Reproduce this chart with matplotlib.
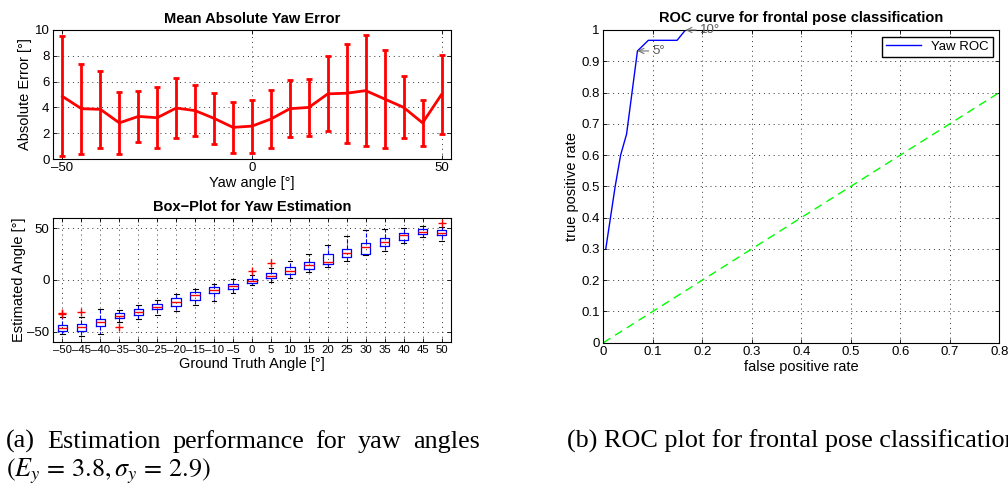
import matplotlib.pyplot as plt

plt.rcParams['font.family'] = ['Liberation Sans', 'DejaVu Sans']
plt.rcParams['mathtext.fontset'] = 'stix'

W, H = 1008, 488

# mean absolute yaw error (deg) with standard deviation per yaw angle
yaw_angles = [-50, -45, -40, -35, -30, -25, -20, -15, -10, -5, 0,
              5, 10, 15, 20, 25, 30, 35, 40, 45, 50]
mean_abs_err = [4.85, 3.9, 3.85, 2.8, 3.3, 3.2, 3.95, 3.75, 3.15, 2.45, 2.55,
                3.1, 3.9, 4.0, 5.05, 5.1, 5.3, 4.65, 4.0, 2.8, 5.0]
std_abs_err = [4.65, 3.5, 3.0, 2.4, 1.95, 2.35, 2.3, 2.0, 2.0, 1.95, 2.05,
               2.25, 2.2, 2.2, 2.9, 3.85, 4.33, 3.8, 2.4, 1.78, 3.05]

# box-plot statistics of the estimated angle per ground truth angle
box_q1 = [-49.5, -49.5, -44.4, -37, -33.9, -28.4, -25.2, -19.2, -12.8, -8.9, -2.9,
          1.6, 5.4, 10.9, 15.4, 22, 25.5, 32.9, 39, 44.1, 43.8]
box_med = [-46, -45, -40.9, -34.5, -31, -25.9, -21.7, -14.7, -9.9, -6.1, -1,
           3.5, 8.3, 15, 17, 26.5, 31.6, 36.7, 43.1, 46.6, 45.4]
box_q3 = [-43.5, -42.5, -37.4, -32, -27.8, -23.3, -17.9, -11.8, -7, -3.8, 1.3,
          6.4, 12.1, 17.6, 24.7, 30.4, 35.5, 40.6, 45.7, 48.9, 48.2]
box_lo = [-52.5, -54.5, -52, -41, -37.4, -34.2, -30.4, -24, -20.1, -12.1, -5.1,
          -1.6, 2.2, 8, 12.9, 18.5, 24, 28.1, 36.1, 41.2, 38]
box_hi = [-36, -36, -28.5, -29, -24.3, -19.2, -13.4, -8.9, -3.8, 1.3, 4.5,
          11.8, 18.2, 25.2, 34.2, 42.5, 48, 48.9, 50.5, 52.4, 51]
box_fliers = [[-32.5, -31.5], [-30.5], [], [-45.5], [], [], [], [], [], [], [9],
              [16], [], [], [], [], [], [], [], [], [55]]

# ROC curve for frontal pose classification
fpr = [0.005, 0.024, 0.035, 0.047, 0.069, 0.091, 0.149, 0.166, 0.256]
tpr = [0.30, 0.50, 0.60, 0.667, 0.933, 0.967, 0.967, 1.0, 1.0]
chance = [0, 1]

TICK_FS = 9.5
LABEL_FS = 10.5


def px_axes(fig, left, top, right, bottom):
    return fig.add_axes([left / W, 1 - bottom / H, (right - left) / W, (bottom - top) / H])


def matlab_style(ax):
    ax.grid(True, linestyle=(0, (1, 4)), linewidth=0.7, color='0.2')
    ax.tick_params(direction='in', top=True, right=True, labelsize=TICK_FS,
                   length=3, width=0.6, pad=2.5)
    for s in ax.spines.values():
        s.set_linewidth(0.8)


def justified(fig, words, x0, x1, y, **kw):
    renderer = fig.canvas.get_renderer()
    texts = [fig.text(0, 1 - y / H, w, va='baseline', **kw) for w in words]
    widths = [t.get_window_extent(renderer).width for t in texts]
    gap = (x1 - x0 - sum(widths)) / (len(words) - 1)
    x = x0
    for t, w in zip(texts, widths):
        t.set_x(x / W)
        x += w + gap


fig = plt.figure(figsize=(W / 100, H / 100), dpi=100)

# mean absolute error with error bars
ax1 = px_axes(fig, 53, 30, 451, 159)
ax1.errorbar(yaw_angles, mean_abs_err, yerr=std_abs_err, color='red', lw=2,
             elinewidth=2, capsize=2.5, capthick=2)
ax1.set_xlim(-52.5, 52.5)
ax1.set_ylim(0, 10)
ax1.set_xticks([-50, 0, 50], labels=['\u201350', '0', '50'])
ax1.set_yticks([0, 2, 4, 6, 8, 10])
matlab_style(ax1)
ax1.set_title('Mean Absolute Yaw Error', fontsize=LABEL_FS, fontweight='bold', pad=5)
ax1.set_xlabel('Yaw angle [°]', fontsize=LABEL_FS, labelpad=1)
ax1.set_ylabel('Absolute Error [°]', fontsize=LABEL_FS, labelpad=2)

# box plot of estimated angles
ax2 = px_axes(fig, 53, 218, 451, 342)
stats = []
for i in range(len(yaw_angles)):
    stats.append(dict(q1=box_q1[i], med=box_med[i], q3=box_q3[i],
                      whislo=box_lo[i], whishi=box_hi[i], fliers=box_fliers[i]))
positions = list(range(1, len(yaw_angles) + 1))
ax2.bxp(stats, positions=positions, widths=0.5, manage_ticks=False,
        boxprops=dict(color='blue', lw=0.9),
        medianprops=dict(color='red', lw=1.0),
        whiskerprops=dict(color='blue', lw=0.8, linestyle='--'),
        capprops=dict(color='black', lw=0.8),
        capwidths=0.25,
        flierprops=dict(marker='+', markeredgecolor='red', markersize=6, markeredgewidth=1))
ax2.set_xlim(0.5, len(yaw_angles) + 0.5)
ax2.set_ylim(-60, 60)
ax2.set_yticks([-50, 0, 50], labels=['\u201350', '0', '50'])
ax2.set_xticks(positions, labels=[str(a).replace('-', '\u2013') for a in yaw_angles])
matlab_style(ax2)
ax2.tick_params(axis='x', labelsize=8.2)
ax2.set_title('Box\u2212Plot for Yaw Estimation', fontsize=LABEL_FS, fontweight='bold', pad=5)
ax2.set_xlabel('Ground Truth Angle [°]', fontsize=LABEL_FS, labelpad=1)
ax2.set_ylabel('Estimated Angle [°]', fontsize=LABEL_FS, labelpad=1)

# ROC curve
ax3 = px_axes(fig, 603.3, 30, 999.3, 342.7)
ax3.plot(fpr, tpr, color='blue', lw=1, label='Yaw ROC')
ax3.plot(chance, chance, color='#00ff00', lw=1, dashes=(6, 4))
ax3.set_xlim(0, 0.8)
ax3.set_ylim(0, 1)
ax3.set_xticks([0, 0.1, 0.2, 0.3, 0.4, 0.5, 0.6, 0.7, 0.8])
ax3.set_yticks([0, 0.1, 0.2, 0.3, 0.4, 0.5, 0.6, 0.7, 0.8, 0.9, 1])
ax3.xaxis.set_major_formatter(lambda v, p: f'{v:g}')
ax3.yaxis.set_major_formatter(lambda v, p: f'{v:g}')
matlab_style(ax3)
for lbl, i, tx in [('5°', 4, 0.1), ('10°', 7, 0.196)]:
    ax3.annotate(lbl, xy=(fpr[i], tpr[i]), xytext=(tx, tpr[i]), color='0.35',
                 fontsize=TICK_FS, va='center', ha='left', annotation_clip=False,
                 arrowprops=dict(arrowstyle='->', color='0.45', lw=0.8,
                                 shrinkA=1, shrinkB=0))
ax3.legend(loc='upper right', fontsize=TICK_FS, fancybox=False, edgecolor='black',
           framealpha=1, borderaxespad=0.5, handlelength=2.6, borderpad=0.3)
ax3.set_title('ROC curve for frontal pose classification', fontsize=LABEL_FS,
              fontweight='bold', pad=6)
ax3.set_xlabel('false positive rate', fontsize=LABEL_FS, labelpad=1)
ax3.set_ylabel('true positive rate', fontsize=LABEL_FS, labelpad=2)

# sub-figure captions
cap_kw = dict(fontsize=18.8, family=['Liberation Serif', 'DejaVu Serif'])
justified(fig, '(a) Estimation performance for yaw angles'.split(), 6, 480, 448, **cap_kw)
fig.text(6 / W, 1 - 476 / H, r'$(E_y\, =\, 3.8,\sigma_y\, =\, 2.9)$', va='baseline', **cap_kw)
fig.text(567 / W, 1 - 448 / H, '(b) ROC plot for frontal pose classification',
         va='baseline', **cap_kw)

fig.savefig('out.png', dpi=100)
